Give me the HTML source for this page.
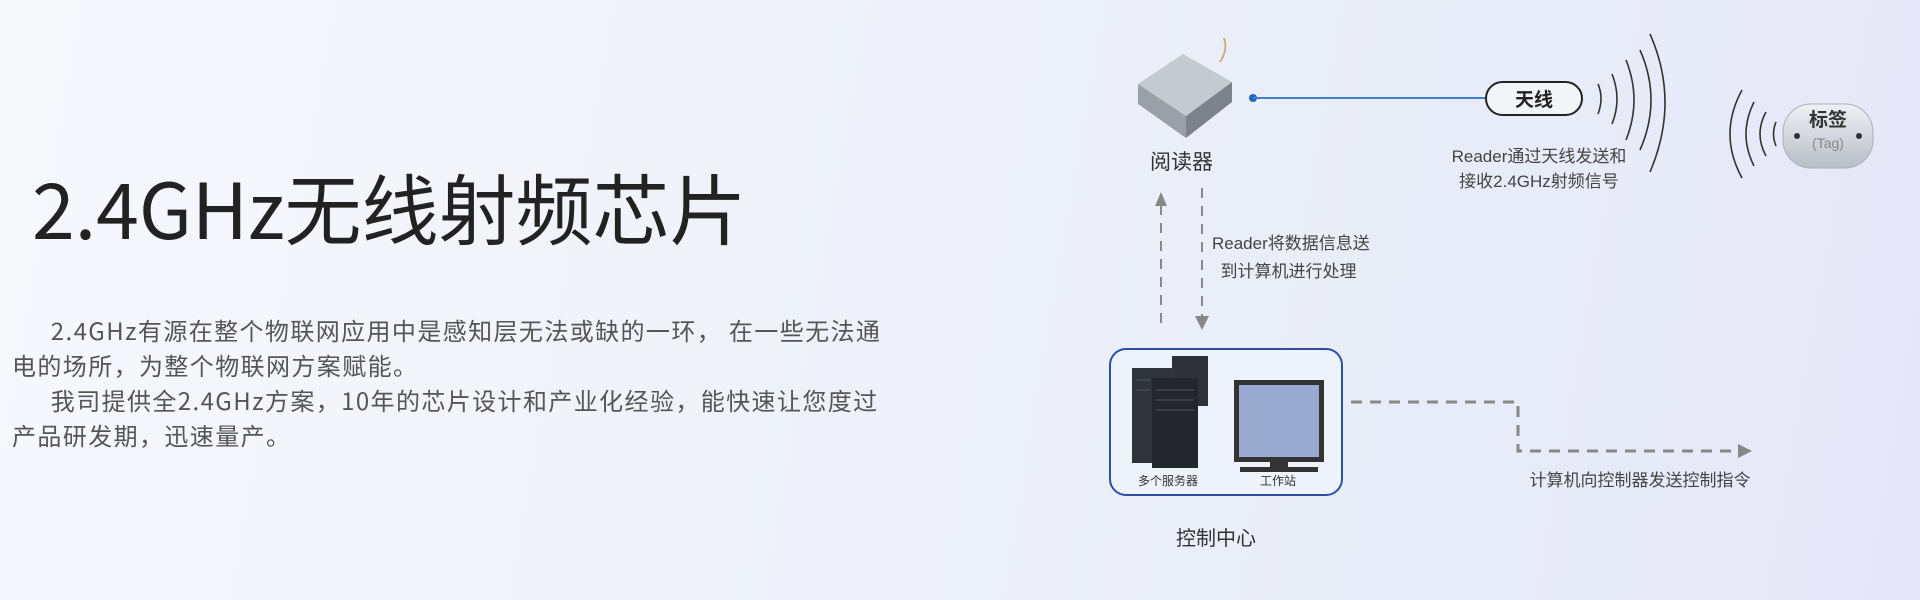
<!DOCTYPE html>
<html><head><meta charset="utf-8"><style>
html,body{margin:0;padding:0}
body{width:1920px;height:600px;overflow:hidden;position:relative;font-family:"Liberation Sans","Noto Sans CJK SC",sans-serif;
background:linear-gradient(100deg,#f7f8fc 0%,#eef1f9 45%,#e8ecf8 75%,#e6e6f8 100%);}
.a{position:absolute;white-space:nowrap}
h1{position:absolute;left:32px;top:164px;margin:0;font-weight:400;font-size:77px;line-height:86px;color:#222;font-family:"Noto Sans CJK SC","Liberation Sans",sans-serif}
.p{position:absolute;left:12px;top:312px;width:920px;font-size:24px;line-height:35px;color:#555;letter-spacing:1.4px;font-family:"Noto Sans CJK SC",sans-serif}
.lbl{color:#333;font-size:21px}
.cap{color:#444;font-size:17px;line-height:25px;text-align:center}
</style></head><body>
<h1>2.4GHz无线射频芯片</h1>
<div class="p">&emsp;&ensp;2.4GHz有源在整个物联网应用中是感知层无法或缺的一环， 在一些无法通<br>电的场所，为整个物联网方案赋能。<br>&emsp;&ensp;我司提供全2.4GHz方案，10年的芯片设计和产业化经验，能快速让您度过<br>产品研发期，迅速量产。</div>

<svg class="a" style="left:0;top:0" width="1920" height="600">
<defs>
<linearGradient id="tg" x1="0" y1="0" x2="0" y2="1"><stop offset="0" stop-color="#eef0f4"/><stop offset="1" stop-color="#b9bdc6"/></linearGradient>
</defs>
<path d="M1220 62 q8 -12 4 -24" stroke="#c9b27a" stroke-width="2" fill="none"/>
<polygon points="1138,84 1183,54 1232,82 1186,116" fill="#c5c9d0"/>
<polygon points="1138,84 1186,116 1186,138 1138,104" fill="#9ba0a8"/>
<polygon points="1186,116 1232,82 1232,102 1186,138" fill="#7d838c"/>
<circle cx="1253" cy="98" r="4" fill="#1e66c8"/>
<line x1="1253" y1="98" x2="1486" y2="98" stroke="#3d80cc" stroke-width="2"/>
<rect x="1486" y="82" width="96" height="33" rx="16.5" fill="#f3f4f8" stroke="#222" stroke-width="2"/>
<g fill="none" stroke="#333" stroke-width="1.6">
<path d="M1598 84 q6 14 0 30"/>
<path d="M1612 74 q10 25 0 50"/>
<path d="M1626 60 q16 40 0 80"/>
<path d="M1640 50 q22 50 0 100"/>
<path d="M1650 34 q30 68 0 138"/>
</g>
<g fill="none" stroke="#333" stroke-width="1.6">
<path d="M1776 122 q-5 12 0 24"/>
<path d="M1766 112 q-12 22 0 44"/>
<path d="M1754 102 q-16 32 0 64"/>
<path d="M1742 90 q-24 44 0 88"/>
</g>
<rect x="1783" y="104" width="90" height="64" rx="28" fill="url(#tg)" stroke="#aab0ba"/>
<circle cx="1797" cy="136" r="3" fill="#333"/><circle cx="1859" cy="136" r="3" fill="#333"/>
<line x1="1161" y1="205" x2="1161" y2="330" stroke="#888" stroke-width="2" stroke-dasharray="10 8"/>
<polygon points="1155,206 1167,206 1161,192" fill="#888"/>
<line x1="1202" y1="188" x2="1202" y2="318" stroke="#888" stroke-width="2" stroke-dasharray="10 8"/>
<polygon points="1195,316 1209,316 1202,330" fill="#888"/>
<rect x="1110" y="349" width="232" height="146" rx="16" fill="#eef2fb" stroke="#2a4fa8" stroke-width="2"/>
<rect x="1172" y="356" width="36" height="50" fill="#2e3238"/>
<rect x="1132" y="368" width="42" height="95" fill="#2f343b"/>
<rect x="1152" y="378" width="46" height="90" fill="#23272d"/>
<g stroke="#555" stroke-width="1"><line x1="1156" y1="390" x2="1194" y2="390"/><line x1="1156" y1="400" x2="1194" y2="400"/><line x1="1156" y1="410" x2="1194" y2="410"/><line x1="1136" y1="380" x2="1150" y2="380"/><line x1="1136" y1="390" x2="1150" y2="390"/></g>
<rect x="1234" y="380" width="90" height="82" fill="#333"/>
<rect x="1239" y="385" width="80" height="72" fill="#9aaad0"/>
<rect x="1270" y="462" width="18" height="6" fill="#333"/>
<rect x="1240" y="467" width="78" height="5" fill="#333"/>
<polyline points="1351,402 1518,402 1518,451 1740,451" fill="none" stroke="#888" stroke-width="3" stroke-dasharray="11 8"/>
<polygon points="1738,444 1752,451 1738,458" fill="#888"/>
</svg>

<div class="a lbl" style="left:1150px;top:146px">阅读器</div>
<div class="a" style="left:1486px;top:85px;width:96px;text-align:center;font-size:19px;color:#222;font-weight:bold">天线</div>
<div class="a cap" style="left:1439px;top:144px;width:200px">Reader通过天线发送和<br>接收2.4GHz射频信号</div>
<div class="a" style="left:1783px;top:110px;width:90px;text-align:center;font-size:19px;color:#333;font-weight:bold;line-height:22px">标签<br><span style="font-size:14px;color:#888;font-weight:normal">(Tag)</span></div>
<div class="a cap" style="left:1212px;top:230px;text-align:left;line-height:28px">Reader将数据信息送<br>&ensp;到计算机进行处理</div>
<div class="a" style="left:1138px;top:472px;font-size:12px;color:#333">多个服务器</div>
<div class="a" style="left:1260px;top:472px;font-size:12px;color:#333">工作站</div>
<div class="a lbl" style="left:1176px;top:522px;font-size:20px">控制中心</div>
<div class="a cap" style="left:1520px;top:468px;width:240px;font-size:17px">计算机向控制器发送控制指令</div>
</body></html>
